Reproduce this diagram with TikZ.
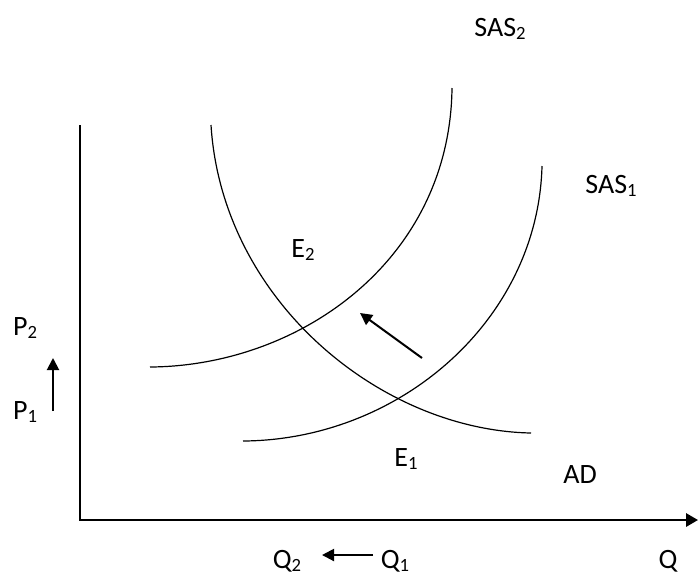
\documentclass[tikz,border=0pt]{standalone}
\usepackage{fontspec}
\setmainfont{Carlito}
\usetikzlibrary{arrows.meta}
\newcommand{\lowsub}[1]{\raisebox{-0.12em}{\fontsize{14}{14}\selectfont #1}}

\begin{document}
\begin{tikzpicture}[
  x=0.75pt, y=-0.75pt,
  lbl/.style={font=\fontsize{21}{21}\selectfont, inner sep=0pt},
  axis/.style={line width=1.6pt, -{Triangle[length=9pt, width=10pt]}},
  curve/.style={line width=0.9pt},
  ar/.style={line width=1.5pt, -{Triangle[length=9pt, width=9pt]}},
]
  \useasboundingbox (0,0) rectangle (698,576);

  % ---- axes ----
  \coordinate (ptop) at (80,125);
  \coordinate (orig) at (80,520);
  \coordinate (qend) at (698,520);
  \draw[axis] (ptop) -- (orig) -- (qend);

  % ---- curves ----
  \coordinate (ad0) at (211,125);
  \coordinate (ad1) at (531,433);
  \draw[curve] (ad0) .. controls (222,300) and (380,430) .. (ad1);

  \coordinate (sa0) at (243,441);
  \coordinate (sa1) at (542,166);
  \draw[curve] (sa0) .. controls (400,440) and (538,320) .. (sa1);

  \coordinate (sb0) at (150,367);
  \coordinate (sb1) at (452,88);
  \draw[curve] (sb0) .. controls (300,366) and (450,260) .. (sb1);

  % ---- labels ----
  \node[lbl] (sas2) at (500,29)  {SAS\lowsub{2}};
  \node[lbl] (sas1) at (611,186) {SAS\lowsub{1}};
  \node[lbl] (e2)   at (303,250) {E\lowsub{2}};
  \node[lbl] (e1)   at (406,459) {E\lowsub{1}};
  \node[lbl] (ad)   at (580,475) {AD};
  \node[lbl] (p2)   at (25,328)  {P\lowsub{2}};
  \node[lbl] (p1)   at (25,412)  {P\lowsub{1}};
  \node[lbl] (q2)   at (287,561) {Q\lowsub{2}};
  \node[lbl] (q1)   at (395,561) {Q\lowsub{1}};
  \node[lbl] (q)    at (668,561) {Q};

  % ---- shift arrows ----
  \coordinate (pa0) at (53,411);
  \coordinate (pa1) at (53,358);
  \draw[ar] (pa0) -- (pa1);

  \coordinate (ma0) at (422,358);
  \coordinate (ma1) at (360,313);
  \draw[ar] (ma0) -- (ma1);

  \coordinate (qa0) at (373,555);
  \coordinate (qa1) at (322,555);
  \draw[ar] (qa0) -- (qa1);
\end{tikzpicture}
\end{document}
